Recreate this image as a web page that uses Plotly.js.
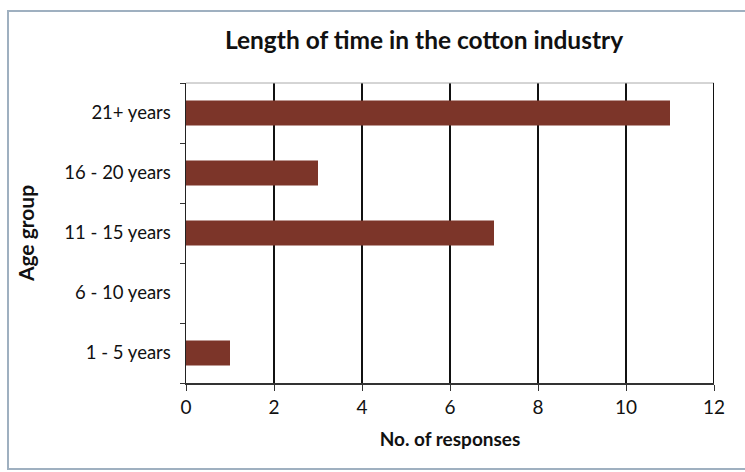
<!DOCTYPE html>
<html>
<head>
<meta charset="utf-8">
<script src="https://cdn.plot.ly/plotly-3.0.1.min.js"></script>
<style>
html,body{margin:0;padding:0;background:#fff;}
#chart{width:745px;height:472px;}
</style>
</head>
<body>
<div id="chart"></div>
<script>
var categories = ["1 - 5 years", "6 - 10 years", "11 - 15 years", "16 - 20 years", "21+ years"];
var responses = [1, 0, 7, 3, 11];
var xTicks = [0, 2, 4, 6, 8, 10, 12];

var W = 745, H = 472;
var m = {l: 186, r: 31, t: 83, b: 89};
var pw = W - m.l - m.r, ph = H - m.t - m.b;
function px(x){ return (x - m.l) / pw; }
function py(y){ return (H - m.b - y) / ph; }
var xMax = xTicks[xTicks.length - 1];

var trace = {
  type: 'bar',
  orientation: 'h',
  x: responses,
  y: categories,
  marker: {color: '#7c3529', line: {width: 0}},
  hoverinfo: 'x+y'
};

var layout = {
  width: W, height: H,
  margin: m,
  paper_bgcolor: '#ffffff',
  plot_bgcolor: '#ffffff',
  bargap: 0.58,
  showlegend: false,
  font: {family: 'Lato, "Open Sans", sans-serif', color: '#111'},
  title: {
    text: '<b>Length of time in the cotton industry</b>',
    font: {size: 24.5, family: 'Lato, sans-serif', color: '#111'},
    x: px(424), xanchor: 'center', xref: 'paper',
    y: 1 - 40 / H, yanchor: 'middle', yref: 'container'
  },
  xaxis: {
    range: [0, xMax],
    tickvals: xTicks,
    ticktext: xTicks.map(String),
    showgrid: true,
    gridcolor: '#111',
    gridwidth: 2,
    zeroline: false,
    showline: true,
    linecolor: '#333',
    linewidth: 2,
    ticks: 'outside',
    ticklen: 6,
    tickcolor: '#333',
    tickwidth: 1,
    tickfont: {size: 19, color: '#111'},
    title: {text: '<b>No. of responses</b>', font: {size: 19, color: '#111'}, standoff: 16},
    fixedrange: true
  },
  yaxis: {
    type: 'category',
    tickson: 'boundaries',
    ticks: 'outside',
    ticklen: 5,
    tickcolor: '#333',
    tickwidth: 1,
    showline: true,
    linecolor: '#222',
    linewidth: 1.5,
    showgrid: false,
    zeroline: false,
    tickfont: {size: 18.5, color: '#111'},
    ticklabelstandoff: 10,
    title: {text: '<b>Age group</b>', font: {size: 21, color: '#111'}, standoff: 24},
    fixedrange: true
  },
  shapes: [
    {type: 'line', xref: 'paper', yref: 'paper', x0: 0, x1: 1, y0: 1, y1: 1,
     line: {color: '#aaa', width: 1}},
    {type: 'line', xref: 'x', yref: 'paper', x0: xMax, x1: xMax, y0: 0, y1: 1,
     line: {color: '#111', width: 2}},
    {type: 'rect', xref: 'paper', yref: 'paper',
     x0: px(8), x1: px(760), y0: py(11), y1: py(469),
     line: {color: '#9fb0c0', width: 2}, fillcolor: 'rgba(0,0,0,0)', layer: 'below'}
  ]
};

Plotly.newPlot('chart', [trace], layout, {displayModeBar: false, staticPlot: true});
</script>
</body>
</html>
